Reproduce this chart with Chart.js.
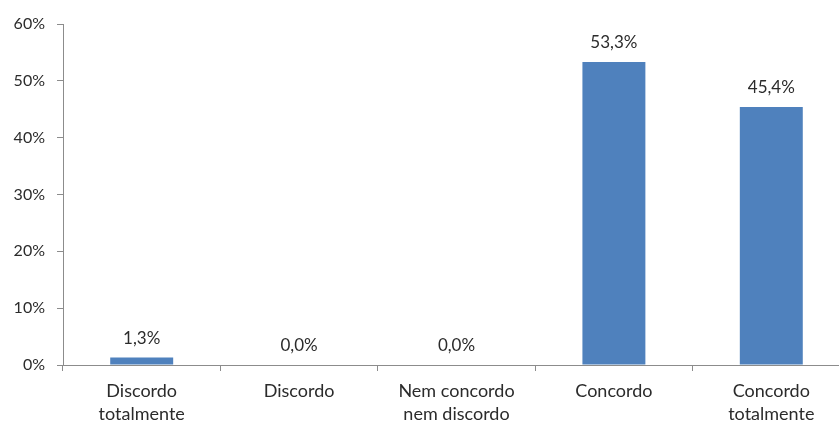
<!DOCTYPE html>
<html>
<head>
<meta charset="utf-8">
<script src="https://cdn.jsdelivr.net/npm/chart.js@4"></script>
<style>
  html, body { margin: 0; padding: 0; background: #fff; overflow: hidden; }
  #caixa { position: absolute; left: 0; top: 0; width: 860px; height: 424px; }
</style>
</head>
<body>
<div id="caixa"><canvas id="grafico" width="860" height="424"></canvas></div>
<script>
// respostas da escala de concordância (em %)
var categorias = [['Discordo', 'totalmente'], 'Discordo', ['Nem concordo', 'nem discordo'], 'Concordo', ['Concordo', 'totalmente']]
var percentuais = [1.3, 0.0, 0.0, 53.3, 45.4]
var ticksY = [0, 10, 20, 30, 40, 50, 60]

var corTexto = '#2b2b2b'
var corEixo = '#8c8c8c'
var familia = 'Lato, "Open Sans", sans-serif'
var fonteX = { family: familia, size: 18, lineHeight: '23px' }
var fonteY = { family: familia, size: 16 }

function formatar(v) {
    return v.toFixed(1).replace('.', ',') + '%'
}

// escreve o valor acima de cada barra
var rotulos = {
    id: 'rotulos',
    afterDatasetsDraw: function (chart) {
        var ctx = chart.ctx
        var meta = chart.getDatasetMeta(0)
        ctx.save()
        ctx.font = '17px ' + familia
        ctx.fillStyle = corTexto
        ctx.textAlign = 'center'
        ctx.textBaseline = 'alphabetic'
        meta.data.forEach(function (barra, i) {
            ctx.fillText(formatar(percentuais[i]), barra.x, barra.y - 14)
        })
        ctx.restore()
    }
}

var graf = new Chart(document.getElementById('grafico'), {
    type: 'bar',
    data: {
        labels: categorias,
        datasets: [{
            data: percentuais,
            backgroundColor: '#4f81bd',
            borderWidth: 0,
            barPercentage: 0.4,
            categoryPercentage: 1
        }]
    },
    options: {
        responsive: false,
        animation: false,
        layout: { padding: { top: 0, right: 10, left: 0, bottom: 0 } },
        plugins: {
            legend: { display: false },
            tooltip: { enabled: false }
        },
        scales: {
            x: {
                grid: {
                    offset: true,
                    drawOnChartArea: false,
                    drawTicks: true,
                    tickLength: 6,
                    color: corEixo
                },
                border: { color: corEixo, width: 1 },
                ticks: {
                    color: corTexto,
                    font: fonteX,
                    padding: 9,
                    maxRotation: 0,
                    autoSkip: false
                },
                afterFit: function (scale) { scale.height = 59 }
            },
            y: {
                min: 0,
                max: 60,
                afterBuildTicks: function (scale) {
                    scale.ticks = ticksY.map(function (v) { return { value: v } })
                },
                grid: {
                    drawOnChartArea: false,
                    drawTicks: true,
                    tickLength: 6,
                    color: corEixo
                },
                border: { color: corEixo, width: 1 },
                ticks: {
                    color: corTexto,
                    font: fonteY,
                    padding: 12,
                    callback: function (v) { return v + '%' }
                },
                afterFit: function (scale) {
                    scale.width = 63
                    scale.paddingTop = 24
                }
            }
        }
    },
    plugins: [rotulos]
})
</script>
</body>
</html>
